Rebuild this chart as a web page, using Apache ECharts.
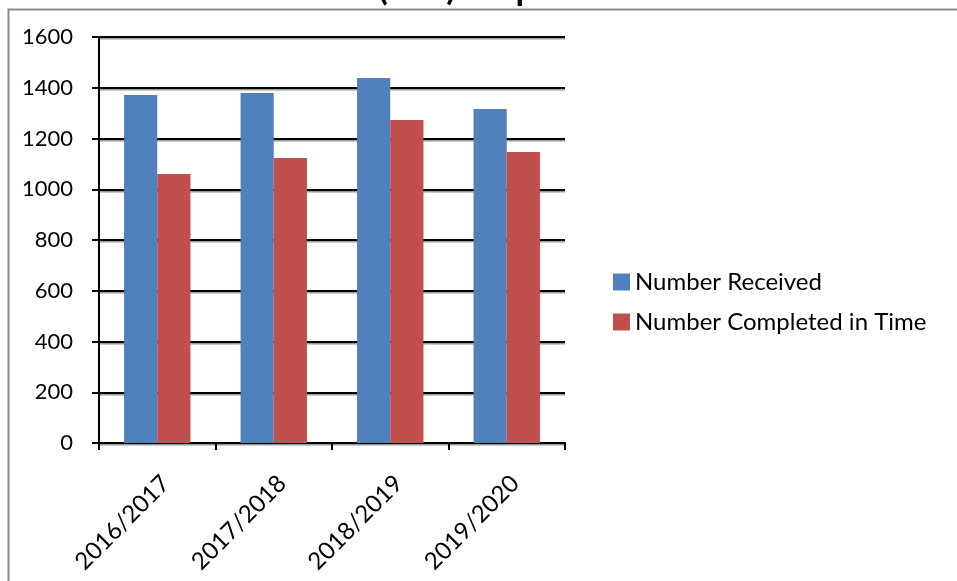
<!DOCTYPE html>
<html><head><meta charset="utf-8">
<script src="https://cdn.jsdelivr.net/npm/echarts@6/dist/echarts.min.js"></script>
<style>html,body{margin:0;padding:0;background:#fff}#c{width:957px;height:581px}</style>
</head><body><div id="c"></div>
<script>
const titleText = 'Freedom of Information (FOI) Requests';
const categories = ['2016/2017', '2017/2018', '2018/2019', '2019/2020'];
const seriesNames = ['Number Received', 'Number Completed in Time'];
const received = [1371, 1379, 1438, 1316];
const completed = [1060, 1123, 1273, 1147];
const yTicks = { min: 0, max: 1600, interval: 200 };

const FONT = 'Lato';
const chart = echarts.init(document.getElementById('c'));
chart.setOption({
  animation: false,
  graphic: [{
    type: 'rect', left: 6, top: 7, z: -1,
    shape: { width: 1000, height: 1000 },
    style: { fill: 'none', stroke: '#8c8c8c', lineWidth: 2 }
  }],
  title: {
    text: titleText, left: -6, top: -33.5,
    textStyle: { fontFamily: FONT, fontSize: 35, fontWeight: 'bold', color: '#000' }
  },
  legend: {
    orient: 'vertical', left: 608, top: 265, itemWidth: 17, itemHeight: 17, itemGap: 16,
    icon: 'rect',
    textStyle: { fontFamily: FONT, fontSize: 24, color: '#000', padding: [0, 0, 0, 0] },
    data: seriesNames
  },
  grid: { left: 99, right: 392, top: 37, bottom: 138, containLabel: false },
  xAxis: {
    type: 'category', data: categories,
    axisLine: { lineStyle: { color: '#000', width: 2 } },
    axisTick: { show: true, length: 7, lineStyle: { color: '#000', width: 2 } },
    axisLabel: { rotate: 45, fontFamily: FONT, fontSize: 24, color: '#000', margin: 28, verticalAlign: 'top' }
  },
  yAxis: {
    type: 'value', min: yTicks.min, max: yTicks.max, interval: yTicks.interval,
    axisLine: { show: true, lineStyle: { color: '#000', width: 2 } },
    axisTick: { show: true, length: 7, lineStyle: { color: '#000', width: 2 } },
    axisLabel: { fontFamily: FONT, fontSize: 22, color: '#000', margin: 26, formatter: v => String(v) },
    splitLine: { lineStyle: { color: '#000', width: 2, shadowColor: '#999', shadowOffsetY: 1.5, shadowBlur: 0 } }
  },
  series: [
    { name: seriesNames[0], type: 'bar', data: received, barGap: '0%', barCategoryGap: '43%', itemStyle: { color: '#4F81BD' } },
    { name: seriesNames[1], type: 'bar', data: completed, itemStyle: { color: '#C0504D' } }
  ]
});
</script></body></html>
